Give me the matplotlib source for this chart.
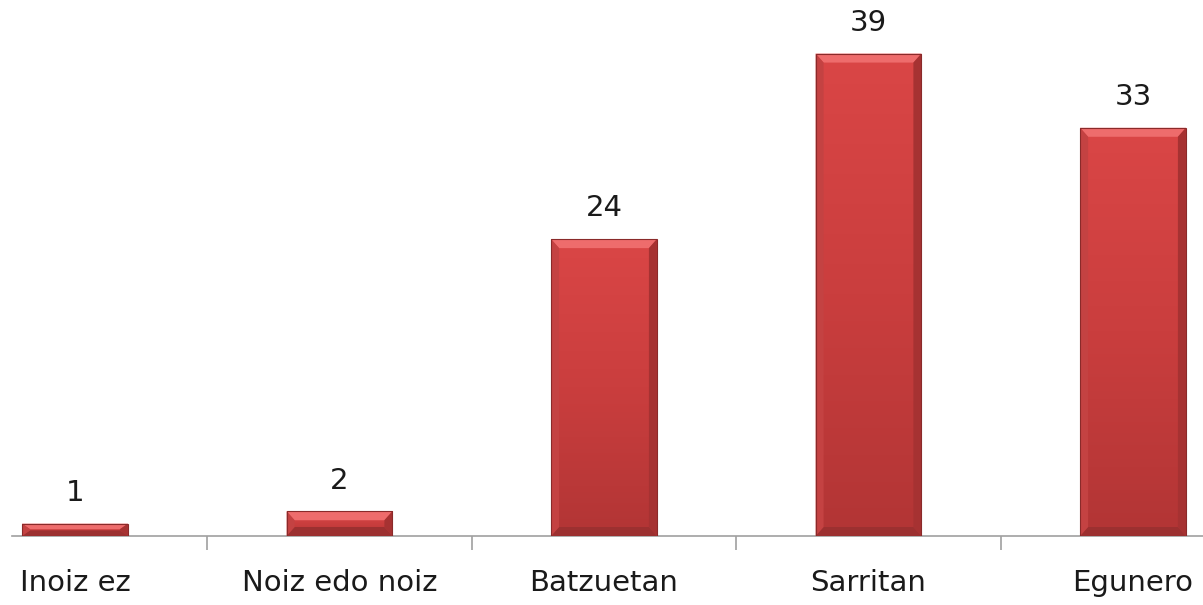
import matplotlib
matplotlib.use("Agg")
import matplotlib.pyplot as plt
import numpy as np
from matplotlib.patches import Polygon
from matplotlib.colors import LinearSegmentedColormap

categories = ["Inoiz ez", "Noiz edo noiz", "Batzuetan", "Sarritan", "Egunero"]
values = [1, 2, 24, 39, 33]

W, H = 1203, 605
fig = plt.figure(figsize=(W / 100, H / 100), dpi=100)
ax_left = 12 / W
ax_bottom = (H - 536) / H
ax = fig.add_axes([ax_left, ax_bottom, 1 - ax_left, 1 - ax_bottom])

spacing_px = 264.5
x0_px = 75
xlim = ((12 - x0_px) / spacing_px, (W - x0_px) / spacing_px)
px_per_unit_y = 12.37
ylim = (0, 536 / px_per_unit_y)
ax.set_xlim(*xlim)
ax.set_ylim(*ylim)

x = np.arange(len(categories))
bars = ax.bar(x, values, width=0.4, color="#D04040", zorder=2)

cmap = LinearSegmentedColormap.from_list("g", ["#B23535", "#CA3E3E", "#DA4646"])
grad = np.linspace(0, 1, 256).reshape(-1, 1)

bx = 8 / spacing_px
for i, b in enumerate(bars):
    l, w, h = b.get_x(), b.get_width(), b.get_height()
    r = l + w
    im = ax.imshow(grad, extent=(l, r, 0, h), origin="lower", cmap=cmap,
                   aspect="auto", zorder=3, interpolation="bilinear")
    im.set_clip_path(b)
    by = min(9 / px_per_unit_y, h / 2.2)
    bxx = min(bx, w / 2)
    ax.add_patch(Polygon([(l, h), (r, h), (r - bxx, h - by), (l + bxx, h - by)],
                         closed=True, facecolor="#EE6C6C", edgecolor="none", zorder=4))
    ax.add_patch(Polygon([(l, 0), (r, 0), (r - bxx, by), (l + bxx, by)],
                         closed=True, facecolor="#9C3030", edgecolor="none", zorder=4))
    ax.add_patch(Polygon([(l, 0), (l + bxx, by), (l + bxx, h - by), (l, h)],
                         closed=True, facecolor="#C44242", edgecolor="none", zorder=4))
    ax.add_patch(Polygon([(r, 0), (r - bxx, by), (r - bxx, h - by), (r, h)],
                         closed=True, facecolor="#A63232", edgecolor="none", zorder=4))
    ax.add_patch(plt.Rectangle((l, 0), w, h, facecolor="none",
                               edgecolor="#8A2A2A", linewidth=0.8, zorder=5))
    ax.annotate(f"{values[i]}", (l + w / 2, h),
                xytext=(0, 12), textcoords="offset points", ha="center",
                va="bottom", fontsize=21, color="#1a1a1a", family="DejaVu Sans")

for s in ["top", "right", "left"]:
    ax.spines[s].set_visible(False)
ax.spines["bottom"].set_color("#A0A0A0")
ax.spines["bottom"].set_linewidth(1.2)
ax.set_yticks([])
ax.set_xticks(np.arange(len(categories) - 1) + 0.5)
ax.set_xticklabels([])
ax.tick_params(axis="x", length=10, width=1.2, color="#A0A0A0", direction="out")
ax.set_xticks(x, minor=True)
ax.set_xticklabels(categories, minor=True)
ax.tick_params(axis="x", which="minor", length=0, pad=24, labelsize=21,
               labelcolor="#1a1a1a")

fig.savefig("out.png", dpi=100)
